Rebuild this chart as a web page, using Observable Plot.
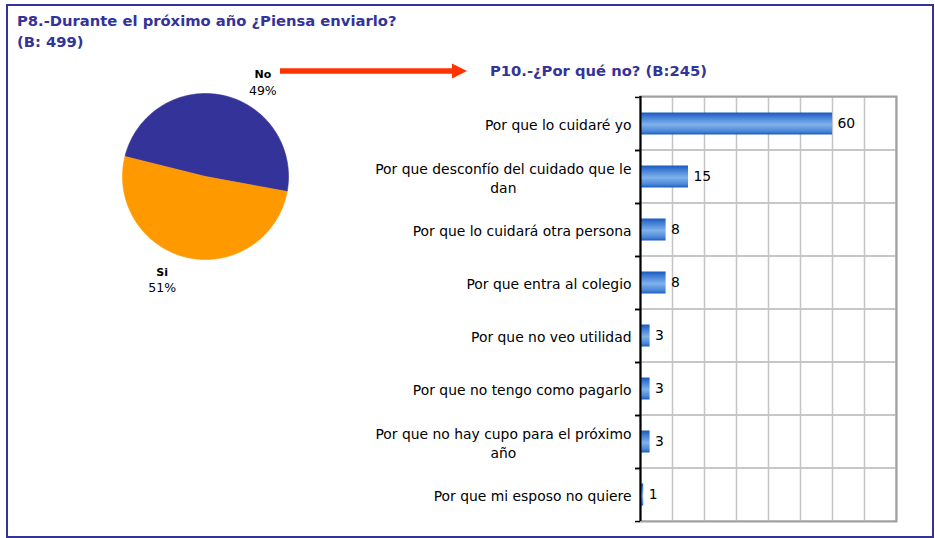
<!DOCTYPE html>
<html><head><meta charset="utf-8">
<script src="https://cdn.jsdelivr.net/npm/d3@7"></script>
<script src="https://cdn.jsdelivr.net/npm/@observablehq/plot@0.6"></script>
<style>
html,body{margin:0;padding:0;background:#fff;width:935px;height:538px;overflow:hidden;}
#frame{position:absolute;left:6px;top:4px;width:924px;height:530px;border:2px solid #333399;}
.title{position:absolute;font-family:"DejaVu Sans";font-weight:bold;font-size:14.75px;color:#333399;line-height:21px;white-space:nowrap;}
#t1{left:17px;top:9.5px;}
#t2{left:490px;top:59.5px;}
#bars,#pie{position:absolute;}
#bars{left:0;top:0;}
#pie{left:84.5px;top:46px;}
#arrow{position:absolute;left:280px;top:62px;}
</style></head><body>
<div id="frame"></div>
<div id="t1" class="title">P8.-Durante el próximo año ¿Piensa enviarlo?<br>(B: 499)</div>
<div id="t2" class="title">P10.-¿Por qué no? (B:245)</div>
<svg id="arrow" width="190" height="18"><path d="M0,6.3 H172 V1.5 L187,9 L172,16.5 V11.7 H0 Z" fill="#ff3300"/></svg>
<div id="bars"></div>
<div id="pie"></div>
<script>
// ---- data ----
const pieLabels = ["No", "Si"];
const pieValues = [49, 51];
const pieColors = ["#333399", "#ff9900"];

const reasons = [
  "Por que lo cuidaré yo",
  "Por que desconfío del cuidado que le dan",
  "Por que lo cuidará otra persona",
  "Por que entra al colegio",
  "Por que no veo utilidad",
  "Por que no tengo como pagarlo",
  "Por que no hay cupo para el próximo año",
  "Por que mi esposo no quiere"
];
const reasonValues = [60, 15, 8, 8, 3, 3, 3, 1];
const xTicks = [0, 10, 20, 30, 40, 50, 60, 70, 80];

// ---- bar chart ----
const W = 935, H = 538, mL = 640, mR = 39, mT = 96, mB = 17;
const rowH = (H - mT - mB) / reasons.length;
const labelFont = 13.9;
const data = reasons.map((r, i) => ({reason: r, value: reasonValues[i]}));

const ctx = document.createElement("canvas").getContext("2d");
ctx.font = `${labelFont}px "DejaVu Sans"`;
const maxLabelW = 262;
function wrap(s) {
  const words = s.split(" ");
  const lines = [];
  let cur = "";
  for (const w of words) {
    const t = cur ? cur + " " + w : w;
    if (cur && ctx.measureText(t).width > maxLabelW) { lines.push(cur); cur = w; }
    else cur = t;
  }
  lines.push(cur);
  return lines.join("\n");
}

const barSvg = Plot.plot({
  width: W, height: H,
  marginLeft: mL, marginRight: mR, marginTop: mT, marginBottom: mB,
  style: {fontFamily: "DejaVu Sans", fontSize: labelFont + "px", color: "#000", background: "transparent", overflow: "visible"},
  x: {domain: [0, 80], axis: null},
  y: {domain: reasons, padding: 0, axis: null, label: null},
  marks: [
    Plot.barX(reasons, {x1: 0, x2: 80, y: d => d, fill: "none", stroke: "#c4c4c4", strokeWidth: 1.5}),
    Plot.ruleX(xTicks, {stroke: "#c4c4c4", strokeWidth: 1.5}),
    Plot.frame({stroke: "#a0a0a0", strokeWidth: 2}),
    Plot.barX(data, {x: "value", y: "reason", insetTop: 15.5, insetBottom: 15.5, fill: "url(#barGrad)"}),
    Plot.text(data, {x: "value", y: "reason", text: d => String(d.value), dx: 5, textAnchor: "start", fill: "#000"}),
    Plot.ruleX([0], {stroke: "#000", strokeWidth: 2}),
    Plot.axisY({tickSize: 0, tickPadding: 9, tickFormat: wrap, lineHeight: 1.4, fill: "#000", label: null}),
    Plot.axisY({tickSize: 5, tickFormat: () => "", dy: -rowH / 2, strokeWidth: 1.5, label: null}),
    Plot.axisY({tickSize: 5, tickFormat: () => "", dy: rowH / 2, strokeWidth: 1.5, label: null})
  ]
});
document.getElementById("bars").appendChild(barSvg);

// gradient for bars
const defs = d3.select(barSvg).insert("defs", ":first-child");
const grad = defs.append("linearGradient").attr("id", "barGrad").attr("x1", 0).attr("y1", 0).attr("x2", 0).attr("y2", 1);
[[0, "#1a58bd"], [0.18, "#3c79d2"], [0.55, "#7fb2ec"], [0.85, "#4c88d8"], [1, "#1c5cc0"]]
  .forEach(([o, c]) => grad.append("stop").attr("offset", o).attr("stop-color", c));

// center multi-line labels within their right-aligned block
barSvg.querySelectorAll("text").forEach(t => {
  const sp = t.querySelectorAll("tspan");
  if (sp.length < 2) return;
  let m = 0;
  sp.forEach(s => m = Math.max(m, s.getComputedTextLength()));
  t.setAttribute("text-anchor", "middle");
  sp.forEach(s => s.setAttribute("x", -m / 2));
});

// ---- pie chart ----
const R = 83, PW = 240, PH = 260;
const arcs = d3.pie().sort(null)
  .startAngle(-76 * Math.PI / 180)
  .endAngle((360 - 76) * Math.PI / 180)(pieValues);

const labelNudge = {No: [34, 14], Si: [-20, -4]};
const pieMarks = [];
arcs.forEach((a, i) => {
  const n = 160;
  const pts = [{x: 0, y: 0}];
  for (let k = 0; k <= n; k++) {
    const t = a.startAngle + (a.endAngle - a.startAngle) * k / n;
    pts.push({x: Math.sin(t), y: Math.cos(t)});
  }
  pts.push({x: 0, y: 0});
  pieMarks.push(Plot.line(pts, {x: "x", y: "y", fill: pieColors[i], stroke: pieColors[i], strokeWidth: 0.6}));
});
arcs.forEach((a, i) => {
  const mid = (a.startAngle + a.endAngle) / 2;
  const pos = [{x: 1.33 * Math.sin(mid), y: 1.33 * Math.cos(mid), name: pieLabels[i], pct: pieValues[i] + "%"}];
  const [ndx, ndy] = labelNudge[pieLabels[i]];
  pieMarks.push(Plot.text(pos, {x: "x", y: "y", text: "name", dx: ndx, dy: ndy - 8, fontWeight: "bold", fontSize: 11, letterSpacing: -0.5, fill: "#000"}));
  pieMarks.push(Plot.text(pos, {x: "x", y: "y", text: "pct", dx: ndx, dy: ndy + 8, fontSize: 12.5, fill: "#000"}));
});

const pieSvg = Plot.plot({
  width: PW, height: PH, margin: 0,
  style: {fontFamily: "DejaVu Sans", background: "transparent", overflow: "visible"},
  x: {domain: [-PW / 2 / R, PW / 2 / R], axis: null},
  y: {domain: [-PH / 2 / R, PH / 2 / R], axis: null},
  marks: pieMarks
});
document.getElementById("pie").appendChild(pieSvg);
</script>
</body></html>
